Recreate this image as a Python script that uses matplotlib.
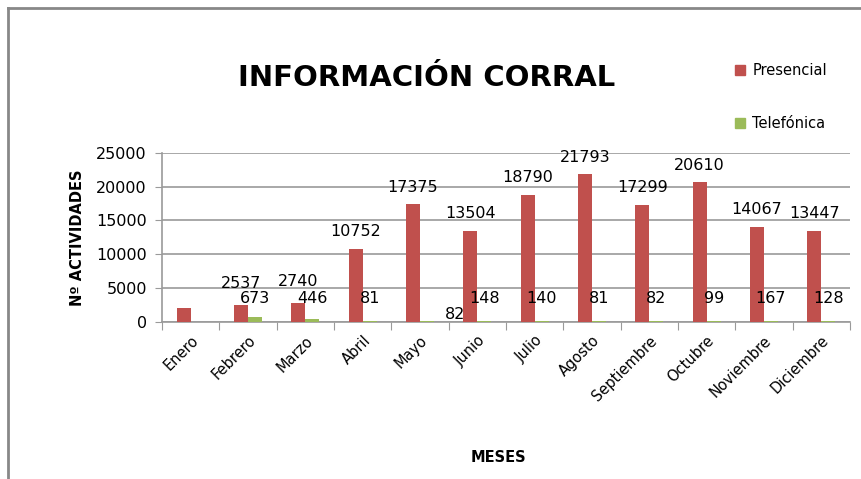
import numpy as np
import matplotlib.pyplot as plt
from matplotlib.lines import Line2D
from matplotlib.patches import Patch

meses = ["Enero", "Febrero", "Marzo", "Abril", "Mayo", "Junio", "Julio",
         "Agosto", "Septiembre", "Octubre", "Noviembre", "Diciembre"]
presencial = [2000, 2537, 2740, 10752, 17375, 13504, 18790, 21793, 17299, 20610, 14067, 13447]
telefonica = [0, 673, 446, 81, 82, 148, 140, 81, 82, 99, 167, 128]
show_pres_label = [False] + [True] * 11
show_tel_label = [False] + [True] * 11

red = "#C0504D"
green = "#9BBB59"
grid = "#9a9a9a"

plt.rcParams["font.family"] = "DejaVu Sans"

fig = plt.figure(figsize=(8.62, 4.79), dpi=100)
ax = fig.add_axes([0.188, 0.328, 0.798, 0.353])

x = np.arange(len(meses))
w = 0.245
ax.bar(x - w / 2, presencial, width=w, color=red, zorder=3)
ax.bar(x + w / 2, telefonica, width=w, color=green, zorder=3)

for i in range(len(meses)):
    if show_pres_label[i]:
        off = 10 if presencial[i] < 5000 else 7
        ax.annotate(str(presencial[i]), (x[i] - w / 2, presencial[i]),
                    xytext=(0, off), textcoords="offset points",
                    ha="center", va="bottom", fontsize=11.5, zorder=5)
    if show_tel_label[i]:
        dx, ty = 0, 3500
        if meses[i] == "Mayo":
            dx, ty = 20, 1050
        ax.annotate(str(telefonica[i]), (x[i] + w / 2, ty),
                    xytext=(dx, 0), textcoords="offset points",
                    ha="center", va="center", fontsize=11.5, zorder=5)

ax.set_xlim(-0.5, len(meses) - 0.5)
ax.set_ylim(0, 25000)
ax.set_yticks(np.arange(0, 25001, 5000))
ax.tick_params(axis="y", labelsize=11.5, length=5, color=grid, pad=6)

ax.set_xticks(np.arange(-0.5, len(meses), 1))
ax.set_xticklabels([])
ax.set_xticks(x, minor=True)
ax.set_xticklabels(meses, minor=True, rotation=45, ha="right",
                   rotation_mode="anchor", fontsize=10.5)
ax.tick_params(axis="x", which="major", length=6, color=grid)
ax.tick_params(axis="x", which="minor", length=0, pad=8)

ax.yaxis.grid(True, color=grid, linewidth=1.2, zorder=0)
for s in ["top", "right"]:
    ax.spines[s].set_visible(False)
for s in ["left", "bottom"]:
    ax.spines[s].set_color(grid)
    ax.spines[s].set_linewidth(1.2)

ax.set_ylabel("Nº ACTIVIDADES", fontsize=10.5, fontweight="bold", labelpad=8)
fig.text(0.578, 0.045, "MESES", ha="center", va="center", fontsize=10.5, fontweight="bold")
fig.text(0.495, 0.838, "INFORMACIÓN CORRAL", ha="center", va="center",
         fontsize=21, fontweight="bold")

handles = [Patch(color=red, label="Presencial"), Patch(color=green, label="Telefónica")]
fig.legend(handles=handles, loc="upper left", bbox_to_anchor=(0.838, 0.895),
           frameon=False, fontsize=10.5, labelspacing=2.6, handlelength=0.65,
           handleheight=0.65, handletextpad=0.5)

# chart border (top and left only)
fig.add_artist(Line2D([0.0095, 1.0], [0.983, 0.983], color="#888888", linewidth=2))
fig.add_artist(Line2D([0.0095, 0.0095], [0.0, 0.983], color="#888888", linewidth=2))

plt.savefig("out.png", dpi=100)
